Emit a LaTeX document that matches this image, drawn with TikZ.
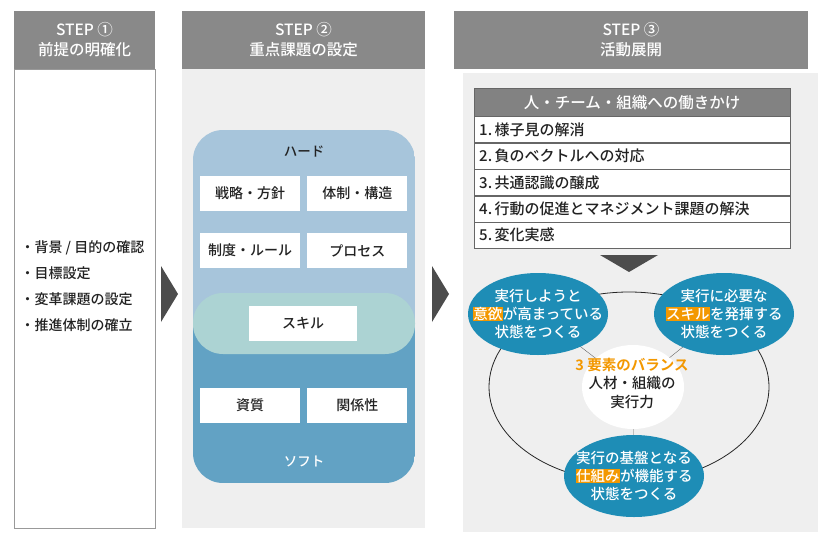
\documentclass[tikz,border=0pt]{standalone}
\usepackage{fontspec}
\setmainfont{Noto Sans CJK JP Medium}[BoldFont={Noto Sans CJK JP Bold}]
\usepackage{xcolor}
\usetikzlibrary{positioning,shapes.geometric}
\definecolor{stepgray}{HTML}{898989}
\definecolor{panelgray}{HTML}{EFEFEF}
\definecolor{hardblue}{HTML}{A7C5DB}
\definecolor{softblue}{HTML}{62A2C4}
\definecolor{skillmint}{HTML}{ACD3D3}
\definecolor{teal}{HTML}{1E8DB6}
\definecolor{hlorange}{HTML}{F39800}
\definecolor{ink}{HTML}{222222}
\newcommand{\hilite}[1]{{\setlength\fboxsep{0.5pt}\colorbox{hlorange}{#1}}}

\begin{document}
\begin{tikzpicture}[x=1pt,y=-1pt,
  stephead/.style={fill=stepgray,text=white,align=center,minimum height=58,inner sep=0,font=\fontsize{15.5}{20}\selectfont},
  itembox/.style={fill=white,text=ink,minimum width=100,minimum height=35,inner sep=0,font=\fontsize{14}{16}\selectfont},
  goal/.style={ellipse,fill=teal,minimum width=140,minimum height=82,inner sep=0},
  goaltext/.style={text=white,align=center,inner sep=0,font=\fontsize{14.5}{18}\selectfont},
  listrow/.style={draw=black!60,fill=white,text=ink,text width=306,inner xsep=5,inner ysep=0,minimum height=26,font=\fontsize{15}{17}\selectfont}]
\useasboundingbox (0,0) rectangle (829,541);
\fill[white] (0,0) rectangle (829,541);

% step headers
\node[stephead,minimum width=141] (s1) at (84.5,40) {STEP ①\\前提の明確化};
\node[stephead,minimum width=243] (s2) at (303.5,40) {STEP ②\\重点課題の設定};
\node[stephead,minimum width=354] (s3) at (631,40) {STEP ③\\活動展開};

% panels
\draw[black!40,fill=white] (14,69) rectangle (155,528);
\fill[panelgray] (182,69) rectangle (425,528);
\fill[panelgray] (463,73) rectangle (818,532);

% step 1
\node[anchor=west,align=left,text=ink,font=\fontsize{14}{25.8}\selectfont] (prem) at (17,286)
  {・背景 / 目的の確認\\・目標設定\\・変革課題の設定\\・推進体制の確立};

% arrows between steps
\fill[black!70] (161,266) -- (178,294) -- (161,322) -- cycle;
\fill[black!70] (432,266) -- (449,294) -- (432,322) -- cycle;

% step 2
\begin{scope}
\clip[rounded corners=30] (193,130) rectangle (415,483);
\fill[hardblue] (193,130) rectangle (415,323);
\fill[softblue] (193,323) rectangle (415,483);
\end{scope}
\fill[skillmint,rounded corners=30] (193,293) rectangle (415,354);
\node[text=ink,font=\fontsize{13.5}{16}\selectfont] (hard) at (304,152) {ハード};
\node[text=white,font=\fontsize{13.5}{16}\selectfont] (soft) at (304,461) {ソフト};
\node[itembox] (b1) at (250,193.5) {戦略・方針};
\node[itembox,right=7 of b1] (b2) {体制・構造};
\node[itembox] (b3) at (250,250.5) {制度・ルール};
\node[itembox,right=7 of b3] (b4) {プロセス};
\node[itembox,minimum width=108] (b5) at (303,323.5) {スキル};
\node[itembox] (b6) at (250,405.5) {資質};
\node[itembox,right=7 of b6] (b7) {関係性};

% step 3 list
\node[fill=stepgray!95!black,draw=black!60,text=white,minimum width=316,minimum height=28,inner sep=0,anchor=north west,font=\fontsize{15.5}{18}\selectfont] (lh) at (474,88) {人・チーム・組織への働きかけ};
\node[listrow,anchor=north west] (l1) at (lh.south west) {1.\,様子見の解消};
\node[listrow,anchor=north west] (l2) at (l1.south west) {2.\,負のベクトルへの対応};
\node[listrow,anchor=north west] (l3) at (l2.south west) {3.\,共通認識の醸成};
\node[listrow,anchor=north west] (l4) at (l3.south west) {4.\,行動の促進とマネジメント課題の解決};
\node[listrow,anchor=north west] (l5) at (l4.south west) {5.\,変化実感};
\fill[black!70] (600,255) -- (658,255) -- (629,272) -- cycle;

% three elements
\draw[black!85,line width=0.8pt] (629,387) ellipse [x radius=140,y radius=95];
\coordinate (c0) at (633,387);
\coordinate (c1) at (538,314);
\coordinate (c2) at (724,314);
\coordinate (c3) at (634,476);
\draw[black!60] (c0) -- (c1) (c0) -- (c2) (c0) -- (c3);
\node[ellipse,fill=white,minimum width=102,minimum height=84,inner sep=0] (core) at (c0) {};
\node[align=center,text=ink,font=\fontsize{14.5}{18.5}\selectfont] (coretext) at (632,383)
  {\textcolor{hlorange}{\textbf{3 要素のバランス}}\\人材・組織の\\実行力};
\node[goal] (will) at (c1) {};
\node[goal] (skill) at (c2) {};
\node[goal] (base) at (c3) {};
\node[goaltext] (willtext) at (will) {実行しようと\\\hilite{意欲}が高まっている\\状態をつくる};
\node[goaltext] (skilltext) at (skill) {実行に必要な\\\hilite{スキル}を発揮する\\状態をつくる};
\node[goaltext] (basetext) at (base) {実行の基盤となる\\\hilite{仕組み}が機能する\\状態をつくる};
\end{tikzpicture}
\end{document}
